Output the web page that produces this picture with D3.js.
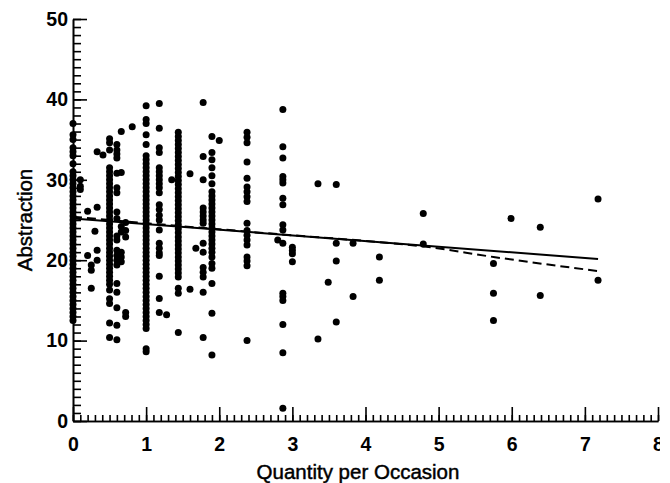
<!DOCTYPE html>
<html>
<head>
<meta charset="utf-8">
<script src="https://cdn.jsdelivr.net/npm/d3@7"></script>
<style>
body { margin: 0; background: #fff; }
text { font-family: "Liberation Sans", Arial, sans-serif; }
.axis path, .axis line { stroke: #000; stroke-width: 1.6; }
.axis text { font-size: 19.5px; font-weight: bold; fill: #000; }
.title { font-size: 20.5px; fill: #000; stroke: #000; stroke-width: 0.45; }
</style>
</head>
<body>
<div id="chart"></div>
<script>
// x position of each column of points and the y values in it
var colX = [0, 0.1, 0.2, 0.25, 0.3, 0.33, 0.41, 0.5, 0.6, 0.66, 0.72, 0.81,
    1, 1.18, 1.28, 1.35, 1.44, 1.6, 1.68, 1.78, 1.9, 2.0,
    2.38, 2.8, 2.87, 3.0, 3.35, 3.49, 3.6, 3.83, 4.19, 4.79,
    5.75, 5.99, 6.39, 7.18];

var colY = [
    [37, 35.6, 35, 34, 33.5, 33, 32, 31, 30.5, 30, 29.5, 29, 28.5, 28, 27.5, 27, 26.5, 26, 25.5, 25, 24.5, 24, 23.5, 23, 22.5, 22, 21.5, 21, 20.5, 20, 19.5, 19, 18.5, 18, 17.5, 17, 16.5, 16, 15.5, 15, 14.5, 14, 13.5, 13, 12.5],
    [30, 29.2, 28.8],
    [26.1, 20.6],
    [19.4, 18.75, 16.5],
    [23.6],
    [33.5, 26.6, 21.25, 20],
    [33.1],
    [35.1, 34.6, 33.7, 31.5, 31, 30.5, 30, 29.5, 29, 28.5, 28, 27.5, 27, 26.5, 26, 25.5, 25, 24.5, 24, 23.5, 23, 22.5, 22, 21.5, 21, 20.5, 20, 19.5, 19, 18.5, 18, 17.5, 17, 16.3, 15.2, 14.6, 12.2, 10.4],
    [34.4, 33.7, 33.2, 32.7, 30.8, 29, 28.4, 26, 25.2, 23, 22.5, 21.25, 20.6, 20, 19.4, 17.1, 16, 14.1, 11.9, 10.1],
    [36, 30.9, 24.2, 23.5, 21, 20.4, 19.8],
    [24.7, 23.7, 22.9, 13.5, 13],
    [36.6],
    [39.2, 37.5, 37, 35.6, 34.4, 33, 32.5, 32, 31.5, 31, 30.5, 30, 29.5, 29, 28.5, 28, 27.5, 27, 26.5, 26, 25.5, 25, 24.5, 24, 23.5, 23, 22.5, 22, 21.5, 21, 20.5, 20, 19.5, 19, 18.5, 18, 17.5, 17, 16.5, 16, 15.5, 15, 14.5, 14, 13.5, 13, 12.5, 12, 11.5, 9, 8.6],
    [39.5, 36.4, 34, 33.4, 31.5, 31, 30.5, 30, 29.5, 29, 28.4, 26.9, 26.3, 25.6, 25, 23.75, 22.1, 21.5, 20.9, 20.6, 18, 15.25, 13.5],
    [13.2],
    [30],
    [35.9, 35.4, 34.9, 34.4, 33.9, 33.4, 32.9, 32.4, 31.9, 31.4, 30.9, 30.4, 29.9, 29.4, 28.9, 28.4, 27.9, 27.4, 26.9, 26.4, 25.9, 25.4, 24.9, 24.4, 23.9, 23.4, 22.9, 22.4, 21.9, 21.4, 20.9, 20.4, 19.9, 19.4, 18.9, 18.4, 17.9, 16.5, 15.9, 11],
    [30.75, 16.4],
    [21.5],
    [39.6, 32.9, 30, 26.5, 26, 25.5, 25, 24.6, 22.1, 21, 19.1, 18.5, 17.9, 16, 10.4],
    [35.4, 33.4, 32.5, 31.5, 30.5, 29.5, 28.5, 28, 27.5, 27, 26.5, 26, 25.5, 25, 24.5, 24, 23.5, 23, 22.5, 22, 21.5, 21, 20.4, 19.6, 19, 17.1, 13.4, 8.2],
    [34.9],
    [35.9, 35.3, 34.6, 32.2, 30.2, 29.1, 28.5, 27.9, 27.3, 24.6, 23.7, 23.1, 22.5, 21.9, 20.4, 19.9, 19.3, 10],
    [22.5],
    [38.75, 34.1, 32.7, 30.4, 30, 29.6, 27.7, 26.9, 24.4, 23.75, 22.1, 15.9, 15.5, 15, 12, 8.5, 1.6],
    [21.6, 21.2, 20.8, 19.8],
    [29.5, 10.2],
    [17.25],
    [29.4, 22.1, 19.9, 12.3],
    [22.1, 15.5],
    [20.4, 17.5],
    [25.8, 22],
    [19.6, 15.9, 12.5],
    [25.2],
    [24.1, 15.6],
    [27.6, 17.5]
];

// linear fit (solid) and smoothed fit (dashed)
var fitX = [0, 7.18];
var fitY = [25.2, 20.15];
var smoothX = [0, 1, 2, 3, 4, 4.8, 5.75, 7.18];
var smoothY = [25.4, 24.6, 23.85, 23.1, 22.4, 21.7, 20.4, 18.65];

var xTicks = [0, 1, 2, 3, 4, 5, 6, 7, 8];
var yTicks = [0, 10, 20, 30, 40, 50];

var points = [];
colX.forEach(function(x, i) {
    colY[i].forEach(function(y) { points.push([x, y]); });
});

// svg is a bit narrower than the page, so the last tick label is cut like in the scan
var svg = d3.select("#chart").append("svg").attr("width", 660).attr("height", 483);

var x = d3.scaleLinear().domain([0, 8]).range([73, 658]);
var y = d3.scaleLinear().domain([0, 50]).range([421, 19]);

// minor ticks
svg.append("g").attr("class", "axis")
    .attr("transform", "translate(0,421)")
    .call(d3.axisBottom(x).tickValues(d3.range(0, 81).map(function(d) { return d / 10; }))
        .tickSizeInner(-6).tickSizeOuter(0).tickFormat(""));
svg.append("g").attr("class", "axis")
    .attr("transform", "translate(73,0)")
    .call(d3.axisLeft(y).tickValues(d3.range(0, 51))
        .tickSizeInner(-8).tickSizeOuter(0).tickFormat(""));

// major ticks
svg.append("g").attr("class", "axis")
    .attr("transform", "translate(0,421)")
    .call(d3.axisBottom(x).tickValues(xTicks).tickSizeInner(-14).tickSizeOuter(0).tickPadding(16));
svg.append("g").attr("class", "axis")
    .attr("transform", "translate(73,0)")
    .call(d3.axisLeft(y).tickValues(yTicks).tickSizeInner(-14).tickSizeOuter(0).tickPadding(5));

svg.append("g").selectAll("circle")
    .data(points).enter().append("circle")
    .attr("cx", function(d) { return x(d[0]); })
    .attr("cy", function(d) { return y(d[1]); })
    .attr("r", 3.5)
    .attr("fill", "#000");

var line = d3.line()
    .x(function(d) { return x(d[0]); })
    .y(function(d) { return y(d[1]); });

svg.append("path")
    .attr("d", line(fitX.map(function(v, i) { return [v, fitY[i]]; })))
    .attr("fill", "none").attr("stroke", "#000").attr("stroke-width", 2);

svg.append("path")
    .attr("d", line.curve(d3.curveMonotoneX)(smoothX.map(function(v, i) { return [v, smoothY[i]]; })))
    .attr("fill", "none").attr("stroke", "#000").attr("stroke-width", 2)
    .attr("stroke-dasharray", "9,5");

svg.append("text")
    .attr("class", "title")
    .attr("x", 358).attr("y", 479)
    .attr("text-anchor", "middle")
    .text("Quantity per Occasion");

svg.append("text")
    .attr("class", "title")
    .attr("transform", "translate(32,220) rotate(-90)")
    .attr("text-anchor", "middle")
    .text("Abstraction");
</script>
</body>
</html>
